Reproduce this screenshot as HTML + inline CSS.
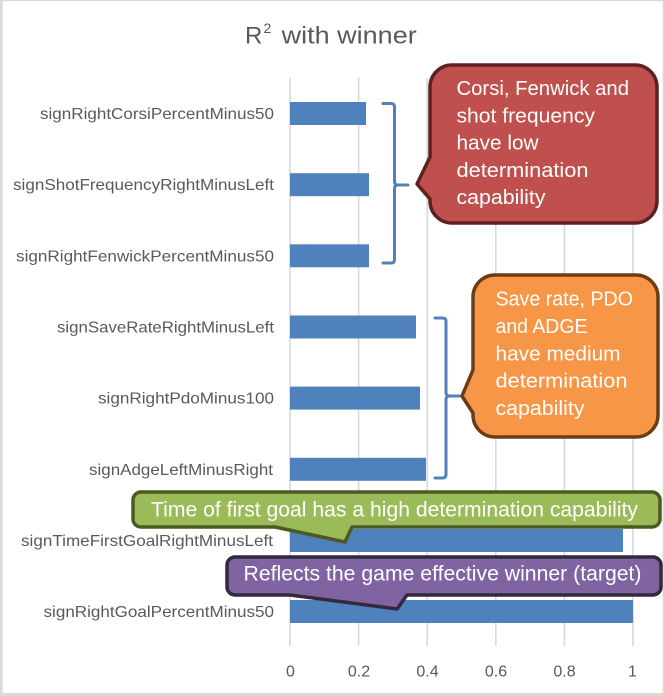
<!DOCTYPE html>
<html>
<head>
<meta charset="utf-8">
<style>
html,body{margin:0;padding:0;background:#fff;}
svg{display:block;}
text{font-family:"Liberation Sans",Arial,sans-serif;}
</style>
</head>
<body>
<svg width="664" height="696" viewBox="0 0 664 696" xmlns="http://www.w3.org/2000/svg">
  <rect x="0" y="0" width="664" height="696" fill="#ffffff"/>
  <!-- chart border -->
  <rect x="0" y="0" width="664" height="1.2" fill="#d9d9d9"/>
  <rect x="0" y="0" width="2.6" height="696" fill="#d9d9d9"/>
  <rect x="662.6" y="0" width="1.4" height="696" fill="#d9d9d9"/>
  <rect x="0" y="693" width="664" height="3" fill="#d9d9d9"/>

  <!-- title -->
  <text x="245" y="43.3" font-size="24" fill="#595959">R</text>
  <text x="263.5" y="33" font-size="14" fill="#595959">2</text>
  <text x="281.7" y="43.3" font-size="24" fill="#595959" textLength="135" lengthAdjust="spacingAndGlyphs">with winner</text>

  <!-- gridlines -->
  <g stroke="#d9d9d9" stroke-width="1.6">
    <line x1="290" y1="78" x2="290" y2="646"/>
    <line x1="358.6" y1="78" x2="358.6" y2="646"/>
    <line x1="427.2" y1="78" x2="427.2" y2="646"/>
    <line x1="495.8" y1="78" x2="495.8" y2="646"/>
    <line x1="564.4" y1="78" x2="564.4" y2="646"/>
    <line x1="633" y1="78" x2="633" y2="646"/>
  </g>

  <!-- bars -->
  <g fill="#4f81bd">
    <rect x="290" y="102" width="76" height="23"/>
    <rect x="290" y="173.2" width="79" height="23"/>
    <rect x="290" y="244.3" width="79" height="23"/>
    <rect x="290" y="315.5" width="126" height="23"/>
    <rect x="290" y="386.6" width="130" height="23"/>
    <rect x="290" y="457.8" width="136" height="23"/>
    <rect x="290" y="529" width="333" height="23"/>
    <rect x="290" y="600" width="343" height="23"/>
  </g>

  <!-- category labels -->
  <g font-size="16" fill="#595959">
    <text x="40" y="119" textLength="234" lengthAdjust="spacingAndGlyphs">signRightCorsiPercentMinus50</text>
    <text x="13" y="190.2" textLength="261" lengthAdjust="spacingAndGlyphs">signShotFrequencyRightMinusLeft</text>
    <text x="16" y="261.3" textLength="258" lengthAdjust="spacingAndGlyphs">signRightFenwickPercentMinus50</text>
    <text x="57" y="332.5" textLength="217" lengthAdjust="spacingAndGlyphs">signSaveRateRightMinusLeft</text>
    <text x="98" y="403.6" textLength="176" lengthAdjust="spacingAndGlyphs">signRightPdoMinus100</text>
    <text x="89" y="474.8" textLength="184" lengthAdjust="spacingAndGlyphs">signAdgeLeftMinusRight</text>
    <text x="21" y="545.9" textLength="252" lengthAdjust="spacingAndGlyphs">signTimeFirstGoalRightMinusLeft</text>
    <text x="43.5" y="617" textLength="230.5" lengthAdjust="spacingAndGlyphs">signRightGoalPercentMinus50</text>
  </g>

  <!-- axis labels -->
  <g font-size="16" fill="#595959" text-anchor="middle">
    <text x="290.5" y="676.7">0</text>
    <text x="359" y="676.7">0.2</text>
    <text x="427.5" y="676.7">0.4</text>
    <text x="496" y="676.7">0.6</text>
    <text x="564.5" y="676.7">0.8</text>
    <text x="632.5" y="676.7">1</text>
  </g>

  <!-- brackets -->
  <g fill="none" stroke="#4f81bd" stroke-width="3" stroke-linecap="round" stroke-linejoin="round">
    <path d="M383,103.5 L391,103.5 Q394.5,103.5 394.5,107 L394.5,181.5 Q394.5,185 398,185 L408,185 M398,185 Q394.5,185 394.5,188.5 L394.5,259.5 Q394.5,263 391,263 L383,263"/>
    <path d="M435,318 L442.5,318 Q446,318 446,321.5 L446,392.5 Q446,396 449.5,396 L460,396 M449.5,396 Q446,396 446,399.5 L446,474.5 Q446,478 442.5,478 L435,478"/>
  </g>

  <!-- red callout -->
  <path d="M452,65 H635 A22,22 0 0 1 657,87 V201 A22,22 0 0 1 635,223 H452 A22,22 0 0 1 430,201 V199 L417,184 L430,157 V87 A22,22 0 0 1 452,65 Z"
        fill="#c0504d" stroke="#5e2120" stroke-width="3.5" stroke-linejoin="round"/>
  <g font-size="20" fill="#ffffff">
    <text x="456.5" y="95" textLength="172.5" lengthAdjust="spacingAndGlyphs">Corsi, Fenwick and</text>
    <text x="456.5" y="122.3" textLength="138.5" lengthAdjust="spacingAndGlyphs">shot frequency</text>
    <text x="456.5" y="149.5" textLength="82" lengthAdjust="spacingAndGlyphs">have low</text>
    <text x="456.5" y="176.8" textLength="132" lengthAdjust="spacingAndGlyphs">determination</text>
    <text x="456.5" y="204" textLength="89" lengthAdjust="spacingAndGlyphs">capability</text>
  </g>

  <!-- orange callout -->
  <path d="M495,275 H636 A22,22 0 0 1 658,297 V415 A22,22 0 0 1 636,437 H495 A22,22 0 0 1 473,415 V413 L462,396 L473,370 V297 A22,22 0 0 1 495,275 Z"
        fill="#f79646" stroke="#6b3d14" stroke-width="3.5" stroke-linejoin="round"/>
  <g font-size="20" fill="#ffffff">
    <text x="495.5" y="305.7" textLength="137.5" lengthAdjust="spacingAndGlyphs">Save rate, PDO</text>
    <text x="495.5" y="333" textLength="92" lengthAdjust="spacingAndGlyphs">and ADGE</text>
    <text x="495.5" y="360.3" textLength="125" lengthAdjust="spacingAndGlyphs">have medium</text>
    <text x="495.5" y="387.6" textLength="132" lengthAdjust="spacingAndGlyphs">determination</text>
    <text x="495.5" y="415" textLength="89" lengthAdjust="spacingAndGlyphs">capability</text>
  </g>

  <!-- green callout -->
  <path d="M141,492 H652 A8,8 0 0 1 660,500 V519 A8,8 0 0 1 652,527 H352 L345,542 L275,527 H141 A8,8 0 0 1 133,519 V500 A8,8 0 0 1 141,492 Z"
        fill="#9bbb59" stroke="#4a5a22" stroke-width="3.5" stroke-linejoin="round"/>
  <text x="151" y="516.5" font-size="21" fill="#ffffff" textLength="487" lengthAdjust="spacingAndGlyphs">Time of first goal has a high determination capability</text>

  <!-- purple callout -->
  <path d="M235,557 H653 A8,8 0 0 1 661,565 V587 A8,8 0 0 1 653,595 H407 L397,609 L290,595 H235 A8,8 0 0 1 227,587 V565 A8,8 0 0 1 235,557 Z"
        fill="#8064a2" stroke="#33293f" stroke-width="3.5" stroke-linejoin="round"/>
  <text x="243.5" y="580.5" font-size="21" fill="#ffffff" textLength="398" lengthAdjust="spacingAndGlyphs">Reflects the game effective winner (target)</text>
</svg>
</body>
</html>
